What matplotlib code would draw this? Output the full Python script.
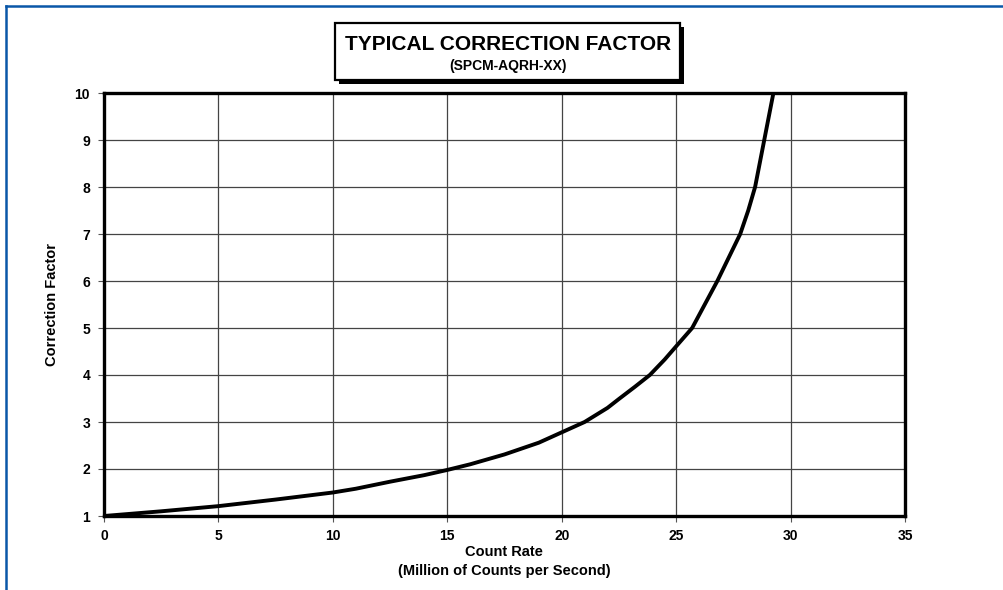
import matplotlib.pyplot as plt
from matplotlib.patches import Rectangle
from matplotlib.lines import Line2D

# values
count_rate = [0, 1, 2.5, 5, 7.5, 10, 11, 12.5, 14, 15, 16, 17.5, 19, 20, 21, 22, 22.5, 23.2, 23.85,
              24.5, 25, 25.7, 26.25, 26.8, 27.3, 27.8, 28.15, 28.45, 28.65, 28.85, 29.05, 29.25]
corr_factor = [1.0, 1.04, 1.10, 1.21, 1.35, 1.50, 1.58, 1.73, 1.87, 1.98, 2.10, 2.31, 2.56, 2.78, 3.0, 3.3, 3.49, 3.75, 4.0,
               4.33, 4.61, 5.0, 5.5, 6.0, 6.5, 7.0, 7.5, 8.0, 8.5, 9.0, 9.5, 10.0]
x_ticks = [0, 5, 10, 15, 20, 25, 30, 35]
y_ticks = [1, 2, 3, 4, 5, 6, 7, 8, 9, 10]

W, H = 1004, 590
plt.rcParams['font.family'] = ['Liberation Sans', 'DejaVu Sans']
fig = plt.figure(figsize=(W / 100, H / 100), dpi=100)

def fx(px):
    return px / W

def fy(py):
    return 1 - py / H

# blue frame (only left and top show in the picture)
blue = '#0a57a8'
fig.add_artist(Line2D([fx(6), fx(6)], [fy(6), 0], color=blue, lw=1.8, transform=fig.transFigure))
fig.add_artist(Line2D([fx(6), 1], [fy(6), fy(6)], color=blue, lw=1.8, transform=fig.transFigure))

ax = fig.add_axes([fx(104), fy(516), fx(905) - fx(104), fy(93) - fy(516)])
ax.plot(count_rate, corr_factor, color='black', lw=2.8, solid_joinstyle='round', zorder=3)
ax.set_xlim(0, 35)
ax.set_ylim(1, 10)
ax.set_xticks(x_ticks)
ax.set_yticks(y_ticks)
ax.grid(True, color='#444444', lw=0.9)
ax.set_axisbelow(True)
for s in ax.spines.values():
    s.set_linewidth(2.4)
    s.set_color('black')
ax.tick_params(direction='out', length=4, width=0.8, color='#555555', labelsize=10)
ax.tick_params(axis='x', pad=5)
ax.tick_params(axis='y', pad=6)
for lab in ax.get_xticklabels() + ax.get_yticklabels():
    lab.set_fontweight('bold')

fig.text(fx(504), fy(552), 'Count Rate', ha='center', va='center', fontsize=10.5, fontweight='bold')
fig.text(fx(504), fy(571), '(Million of Counts per Second)', ha='center', va='center', fontsize=10.5, fontweight='bold')
fig.text(fx(52), fy(304), 'Correction Factor', ha='center', va='center', rotation=90, fontsize=10.5, fontweight='bold')

# title box with shadow
bx0, bx1, by0, by1 = 335, 680, 23, 80
fig.add_artist(Rectangle((fx(bx0 + 4), fy(by1 + 4)), fx(bx1 - bx0), fy(by0) - fy(by1),
                         transform=fig.transFigure, facecolor='black', edgecolor='none'))
fig.add_artist(Rectangle((fx(bx0), fy(by1)), fx(bx1 - bx0), fy(by0) - fy(by1),
                         transform=fig.transFigure, facecolor='white', edgecolor='black', lw=1.6))
fig.text(fx(508), fy(45), 'TYPICAL CORRECTION FACTOR', ha='center', va='center', fontsize=15, fontweight='bold')
fig.text(fx(508), fy(66), '(SPCM-AQRH-XX)', ha='center', va='center', fontsize=10, fontweight='bold')

fig.savefig('out.png', dpi=100)
